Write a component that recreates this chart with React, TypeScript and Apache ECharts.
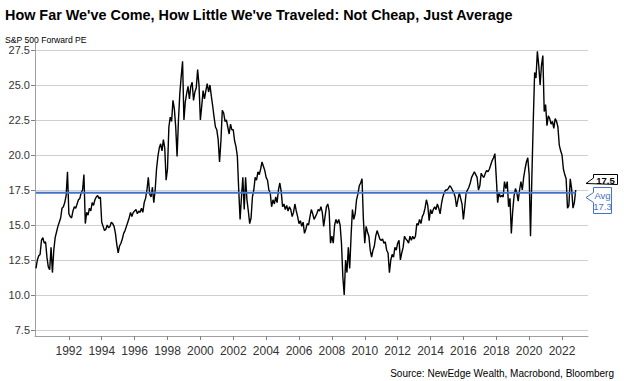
import React, { useEffect, useRef } from "react";
import * as echarts from "echarts";

const startYear = 1990;
// Monthly S&P 500 forward PE, Jan 1990 onward
const pe1990s = [
  11.9, 12.5, 12.8, 12.9, 13.9, 14.1, 13.7, 13.8, 12.7, 12.0, 11.8, 13.4,
  11.6, 13.2, 14.1, 14.5, 14.9, 15.2, 15.5, 16.2, 16.3, 16.6, 17.1, 18.8,
  15.8, 15.6, 15.5, 16.0, 16.3, 16.2, 16.5, 16.8, 16.9, 17.3, 17.5, 18.6,
  15.1, 15.9, 15.7, 16.2, 16.0, 16.6, 16.4, 16.8, 17.0, 17.1, 16.9, 17.0,
  15.2, 14.9, 14.6, 14.7, 15.0, 14.8, 14.9, 15.2, 15.1, 14.9, 14.4, 13.6,
  13.0, 13.5, 13.7, 14.0, 14.4, 14.6, 14.9, 15.2, 15.5, 15.9, 15.6, 15.9,
  16.0, 16.1, 15.8, 16.0, 15.9, 16.2, 15.9, 16.6, 16.9, 17.5, 18.4, 17.2,
  17.0, 17.7, 16.6, 17.5, 19.0, 19.9, 20.5, 20.8, 20.3, 21.1, 20.5, 18.2,
  19.0, 22.0, 22.7, 22.4, 23.9, 23.3, 22.0, 19.9, 22.5, 24.4, 25.6, 26.7,
  22.5, 23.8, 24.4, 24.9, 24.0, 24.9, 25.2, 23.9, 24.5, 24.8, 26.1, 25.0,
];
const pe2000s = [
  22.5, 23.5, 24.6, 24.0, 24.6, 25.1, 24.5, 25.0, 24.2, 23.5, 22.7, 22.0,
  21.8, 21.1, 19.5, 21.0, 23.2, 23.0, 22.4, 22.5, 22.0, 21.5, 22.2, 21.8,
  21.8, 21.0, 20.6, 19.9, 17.5, 15.4, 17.0, 18.4, 16.1, 18.4, 16.8, 16.0,
  15.1, 15.5, 17.0, 17.5, 18.4, 18.2, 18.8, 18.6, 19.0, 19.5, 19.2, 18.9,
  18.4, 18.2, 17.5, 17.3, 16.3, 16.8, 16.5, 17.0, 16.6, 17.5, 18.0, 17.4,
  16.3, 16.5, 16.1, 16.4, 16.0, 16.3, 16.1, 15.6, 15.9, 16.5, 16.0, 15.6,
  15.1, 15.3, 14.9, 15.2, 14.4, 14.7, 15.1, 15.0, 15.6, 16.1, 15.8, 15.4,
  15.6, 15.8, 16.1, 16.0, 16.3, 15.9, 14.9, 15.6, 16.3, 16.5, 16.0, 13.7,
  14.2, 13.7, 15.0, 15.4, 15.1, 15.4, 15.0, 13.7, 11.3, 10.0, 12.5, 11.6,
  13.4, 11.9, 14.2, 16.1, 15.4, 15.8, 16.8, 17.2, 17.8, 18.0, 18.3, 15.4,
];
const pe2010s = [
  13.7, 14.9, 14.5, 14.2, 13.2, 12.7, 13.2, 13.5, 14.2, 14.6, 14.3, 14.0,
  13.9, 14.0, 13.7, 13.8, 13.2, 13.0, 11.6, 12.5, 12.9, 12.7, 13.4, 13.2,
  13.7, 13.9, 12.5, 13.0, 13.4, 14.2, 14.0, 13.9, 13.7, 14.2, 13.9, 14.2,
  14.0, 14.2, 15.1, 15.0, 15.4, 15.1, 15.6, 15.8, 16.2, 16.8, 16.4, 15.3,
  16.1, 15.8, 16.1, 16.3, 16.1, 16.5, 16.2, 15.8, 16.5, 17.0, 17.3, 17.5,
  17.5, 17.6, 17.8, 17.7, 17.5, 17.3, 17.0, 16.3, 16.8, 17.3, 16.9, 16.5,
  15.4, 16.3, 17.3, 17.5, 17.7, 18.0, 18.4, 18.6, 18.8, 18.6, 18.4, 17.5,
  17.8, 18.7, 18.5, 18.4, 18.7, 18.9, 18.8, 19.0, 19.3, 19.6, 19.8, 20.1,
  18.4, 16.6, 17.3, 17.0, 17.1, 17.0, 18.1, 17.6, 18.1, 16.3, 16.9, 14.4,
  16.0, 17.1, 17.6, 17.3, 16.7, 17.5, 18.1, 17.5, 18.4, 19.0, 19.5, 19.8,
];
const pe2020s = [
  18.6, 14.2, 18.5, 22.4, 25.9, 25.5, 27.4, 26.4, 25.0, 26.4, 27.1, 23.1,
  23.6, 22.1, 22.8, 22.6, 22.2, 22.4, 21.9, 22.6, 22.4, 22.0, 20.7, 20.3,
  20.0, 19.0, 18.6, 18.3, 16.2, 16.4, 18.3, 17.6, 16.2, 16.6, 17.5,
];
const averagePE = 17.3;
const yearTicks = [1992, 1994, 1996, 1998, 2000, 2002, 2004, 2006, 2008, 2010, 2012, 2014, 2016, 2018, 2020, 2022];
const peTicks = [7.5, 10, 12.5, 15, 17.5, 20, 22.5, 25, 27.5];

const FONT = "'Liberation Sans', Arial, sans-serif";

export default function App() {
  const ref = useRef<HTMLDivElement>(null);
  useEffect(() => {
    const chart = echarts.init(ref.current!, null, { renderer: "svg" });
    const all = [...pe1990s, ...pe2000s, ...pe2010s, ...pe2020s];
    const data = all.map((v, i) => [startYear + i / 12, v]);
    const firstX = data[0][0];
    const lastX = data[data.length - 1][0];
    const lastVal = all[all.length - 1];
    const avgData = [[firstX, averagePE], [lastX, averagePE]];
    const blue = "#4472C4";

    chart.setOption({
      animation: false,
      backgroundColor: "#ffffff",
      textStyle: { fontFamily: FONT },
      grid: { left: 35, right: 36, top: 43, bottom: 45 },
      xAxis: {
        type: "value",
        min: 1989.94,
        max: 2023.58,
        axisLine: { show: true, lineStyle: { color: "#a0a0a0", width: 1 } },
        axisTick: { show: true, length: 4, lineStyle: { color: "#808080" }, customValues: yearTicks },
        axisLabel: {
          customValues: yearTicks,
          formatter: (v: number) => String(Math.round(v)),
          color: "#333333",
          fontSize: 12,
          margin: 9,
          fontFamily: FONT,
        },
        splitLine: { show: false },
      },
      yAxis: {
        type: "value",
        min: 7.07,
        max: 28.0,
        axisLine: { show: true, lineStyle: { color: "#a0a0a0", width: 1 } },
        axisTick: { show: true, length: 4, lineStyle: { color: "#808080" }, customValues: peTicks },
        axisLabel: {
          customValues: peTicks,
          formatter: (v: number) => v.toFixed(1),
          color: "#333333",
          fontSize: 11,
          margin: 5,
          fontFamily: FONT,
        },
        splitLine: { show: true, lineStyle: { color: "#cfcfcf", width: 1 } },
      },
      series: [
        {
          type: "line",
          data,
          showSymbol: false,
          symbol: "none",
          lineStyle: { color: "#000000", width: 1.4 },
          z: 2,
        },
        {
          type: "line",
          data: avgData,
          showSymbol: false,
          symbol: "none",
          lineStyle: { color: blue, width: 2 },
          z: 3,
        },
      ],
      graphic: [
        {
          type: "text",
          left: 5,
          top: 8,
          style: {
            text: "How Far We've Come, How Little We've Traveled: Not Cheap, Just Average",
            font: `bold 14.4px ${FONT}`,
            fill: "#000000",
          },
        },
        {
          type: "text",
          left: 5,
          top: 35,
          style: { text: "S&P 500 Forward PE", font: `8.6px ${FONT}`, fill: "#000000" },
        },
        {
          type: "text",
          right: 10,
          top: 368,
          style: { text: "Source: NewEdge Wealth, Macrobond, Bloomberg", font: `10px ${FONT}`, fill: "#000000" },
        },
        {
          type: "polygon",
          shape: { points: [[593.5, 174.5], [617.5, 174.5], [617.5, 184.5], [586, 183.5], [593.5, 178]] },
          style: { fill: "#ffffff", stroke: "#000000", lineWidth: 1 },
          z: 10,
        },
        {
          type: "text",
          x: 605.5,
          y: 180,
          style: {
            text: lastVal.toFixed(1),
            font: `bold 9.5px ${FONT}`,
            fill: "#000000",
            align: "center",
            verticalAlign: "middle",
          },
          z: 11,
        },
        {
          type: "polygon",
          shape: { points: [[593.5, 187.5], [611.5, 187.5], [611.5, 213.5], [593.5, 213.5], [593.5, 202.5], [586, 197.5], [593.5, 192.5]] },
          style: { fill: "#ffffff", stroke: blue, lineWidth: 1 },
          z: 10,
        },
        {
          type: "text",
          x: 602.5,
          y: 195,
          style: { text: "Avg", font: `9.5px ${FONT}`, fill: blue, align: "center", verticalAlign: "middle" },
          z: 11,
        },
        {
          type: "text",
          x: 602.5,
          y: 206,
          style: { text: averagePE.toFixed(1), font: `9.5px ${FONT}`, fill: blue, align: "center", verticalAlign: "middle" },
          z: 11,
        },
      ],
    });
    return () => chart.dispose();
  }, []);
  return <div ref={ref} style={{ position: "fixed", left: 0, top: 0, width: 624, height: 381 }} />;
}
